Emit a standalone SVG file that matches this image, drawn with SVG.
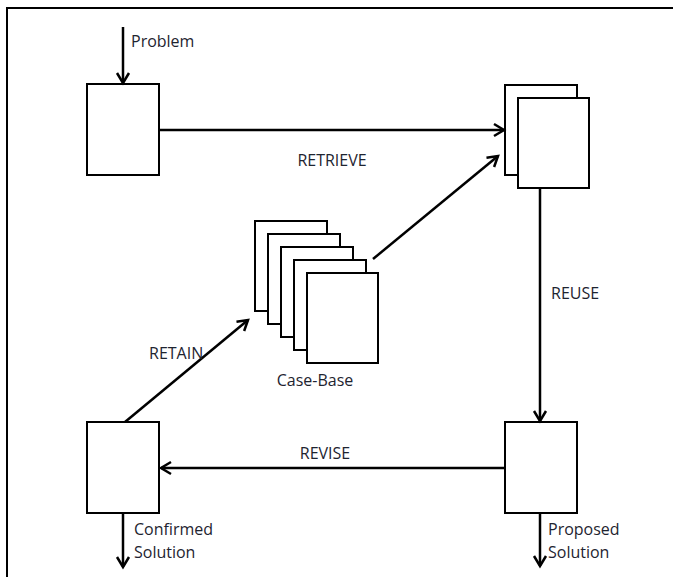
<svg xmlns="http://www.w3.org/2000/svg" width="673" height="577" viewBox="0 0 673 577">
  <style>
    .box { fill: #ffffff; stroke: #000000; stroke-width: 2; }
    .edge { fill: none; stroke: #000000; stroke-width: 2.5; marker-end: url(#head); }
    .frame { fill: none; stroke: #000000; stroke-width: 2; }
    text { font-family: "Open Sans", "Liberation Sans", sans-serif; font-size: 16px; fill: #1e2430; }
  </style>
  <defs>
    <marker id="head" markerUnits="userSpaceOnUse" markerWidth="14" markerHeight="16" refX="11" refY="7" orient="auto" viewBox="0 0 14 14">
      <path d="M1,1 L11,7 L1,13" fill="none" stroke="#000000" stroke-width="2.5"/>
    </marker>
  </defs>

  <!-- page frame -->
  <path class="frame" d="M7,577 L7,8 L673,8"/>

  <!-- cycle steps -->
  <g id="problem-case">
    <rect class="box" x="87" y="84" width="72" height="91"/>
  </g>
  <g id="retrieved-cases">
    <rect class="box" x="505" y="85" width="72" height="90"/>
    <rect class="box" x="518" y="98" width="71" height="90"/>
  </g>
  <g id="proposed-case">
    <rect class="box" x="505" y="422" width="72" height="91"/>
  </g>
  <g id="confirmed-case">
    <rect class="box" x="87" y="422" width="72" height="91"/>
  </g>
  <g id="case-base">
    <rect class="box" x="255" y="221" width="72" height="90"/>
    <rect class="box" x="268" y="234" width="72" height="90"/>
    <rect class="box" x="281" y="247" width="72" height="90"/>
    <rect class="box" x="294" y="260" width="72" height="90"/>
    <rect class="box" x="307" y="273" width="71" height="90"/>
    <text x="315" y="386" text-anchor="middle">Case-Base</text>
  </g>

  <!-- connectors -->
  <g id="connectors">
    <path class="edge" d="M123,27 L123,83"/>
    <path class="edge" d="M159,130 L504,130"/>
    <path class="edge" d="M373,259 L498,156"/>
    <path class="edge" d="M540,188 L540,421"/>
    <path class="edge" d="M505,468 L161,468"/>
    <path class="edge" d="M125,422 L248,320"/>
    <path class="edge" d="M123,513 L123,567"/>
    <path class="edge" d="M540,513 L540,566"/>
  </g>

  <!-- labels -->
  <g id="labels">
    <text x="131" y="47">Problem</text>
    <text x="332" y="166" text-anchor="middle">RETRIEVE</text>
    <text x="551" y="299">REUSE</text>
    <text x="325" y="459" text-anchor="middle">REVISE</text>
    <text x="149" y="359">RETAIN</text>
    <text x="134" y="535">Confirmed</text>
    <text x="134" y="558">Solution</text>
    <text x="548" y="535">Proposed</text>
    <text x="548" y="558">Solution</text>
  </g>
</svg>
